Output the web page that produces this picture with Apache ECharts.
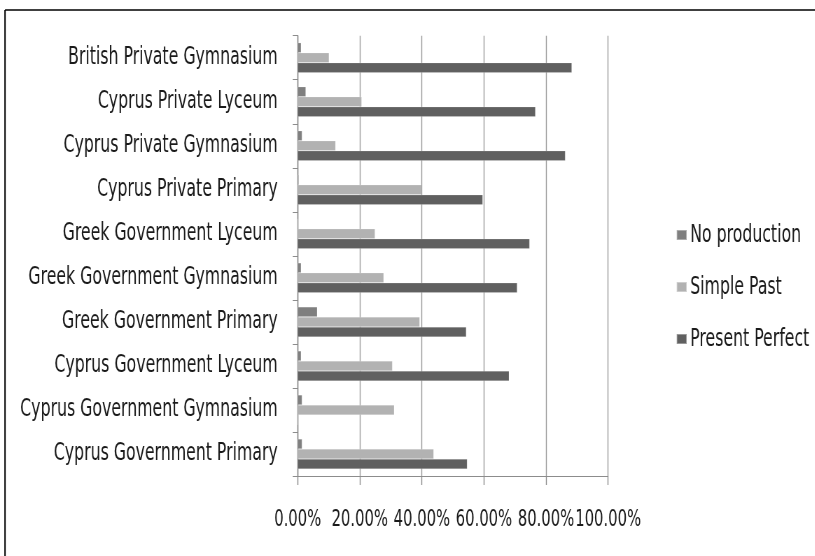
<!DOCTYPE html>
<html>
<head>
<meta charset="utf-8">
<script src="https://cdn.jsdelivr.net/npm/echarts@6/dist/echarts.min.js"></script>
<style>
html,body{margin:0;padding:0;background:#fff;overflow:hidden;width:815px;height:556px;}
#c{width:1164.29px;height:556px;transform:scaleX(0.7);transform-origin:0 0;}
</style>
</head>
<body>
<div id="c"></div>
<script>
var categories = [
  "British Private Gymnasium",
  "Cyprus Private Lyceum",
  "Cyprus Private Gymnasium",
  "Cyprus Private Primary",
  "Greek Government Lyceum",
  "Greek Government Gymnasium",
  "Greek Government Primary",
  "Cyprus Government Lyceum",
  "Cyprus Government Gymnasium",
  "Cyprus Government Primary"
];
var seriesNames = ["No production", "Simple Past", "Present Perfect"];
var noProduction = [1.1, 2.6, 1.4, 0.3, 0, 1.1, 6.3, 1.1, 1.4, 1.4];
var simplePast = [10.1, 20.6, 12.2, 39.9, 24.9, 27.7, 39.3, 30.5, 31.1, 43.8];
var presentPerfect = [88.3, 76.6, 86.2, 59.6, 74.7, 70.7, 54.3, 68.1, 0, 54.6];
var xTicks = [0, 20, 40, 60, 80, 100];

// Horizontal condensation (the reference text is tall and narrow)
var SX = 0.7;
function hx(px) { return px / SX; }

var FONT = "'Liberation Sans Narrow', 'DejaVu Sans Condensed', sans-serif";
var FS = 25;
var chart = echarts.init(document.getElementById('c'), null, {renderer: 'canvas'});
var colors = ['#7f7f7f', '#b2b2b2', '#606060'];
var data = [noProduction, simplePast, presentPerfect];
chart.setOption({
  animation: false,
  backgroundColor: '#fff',
  graphic: [
    {type: 'line', shape: {x1: hx(5), y1: 10, x2: hx(820), y2: 10}, style: {stroke: '#000', lineWidth: 1.4}, silent: true},
    {type: 'line', shape: {x1: hx(5), y1: 10, x2: hx(5), y2: 600}, style: {stroke: '#000', lineWidth: hx(1.4)}, silent: true}
  ],
  legend: {
    orient: 'vertical',
    left: hx(676) - 5, top: 217,
    itemWidth: hx(10), itemHeight: 10, itemGap: 26,
    icon: 'rect',
    data: seriesNames,
    textStyle: {fontFamily: FONT, fontSize: FS, lineHeight: 26, color: '#1a1a1a', padding: [0,0,0,0]}
  },
  grid: {left: hx(297.7), right: 1164.29 - hx(608.3), top: 35.7, bottom: 80, containLabel: false, outerBoundsMode: 'none'},
  xAxis: {
    type: 'value', min: 0, max: 100, interval: 20,
    axisLine: {show: true, lineStyle: {color: '#8c8c8c', width: 1}},
    axisTick: {show: true, length: 9, lineStyle: {color: '#8c8c8c', width: hx(1)}},
    splitLine: {show: true, lineStyle: {color: '#9a9a9a', width: hx(1)}},
    axisLabel: {
      margin: 32, showMinLabel: true, showMaxLabel: true, hideOverlap: false,
      fontFamily: FONT, fontSize: 23.5, color: '#1a1a1a',
      formatter: function (v) { return v.toFixed(2) + '%'; }
    }
  },
  yAxis: {
    type: 'category', data: categories, inverse: true,
    axisLine: {show: true, lineStyle: {color: '#8c8c8c', width: hx(1)}},
    axisTick: {show: true, length: hx(5), lineStyle: {color: '#8c8c8c', width: 1}},
    axisLabel: {margin: hx(20), fontFamily: FONT, fontSize: FS, color: '#1a1a1a', hideOverlap: false, padding: [5, 0, 0, 0]}
  },
  series: seriesNames.map(function (n, i) {
    return {
      name: n, type: 'bar', data: data[i],
      barWidth: 10, barGap: '0%',
      itemStyle: {color: colors[i], borderColor: 'rgba(255,255,255,0.35)', borderWidth: 0.5}
    };
  })
});
</script>
</body>
</html>
